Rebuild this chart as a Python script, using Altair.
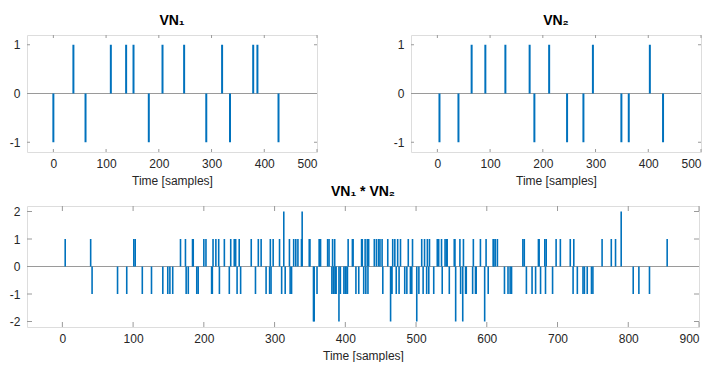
import altair as alt
import pandas as pd

# ---- data (pulse positions and signs of the two sequences) ----
vn1_pos = [0, 38, 61, 109, 138, 152, 181, 207, 248, 290, 320, 335, 379, 387, 427]
vn1_amp = [-1, 1, -1, 1, 1, 1, -1, 1, 1, -1, 1, -1, 1, 1, -1]
vn2_pos = [4, 40, 65, 91, 129, 175, 184, 212, 246, 277, 295, 349, 363, 403, 428]
vn2_amp = [-1, -1, 1, 1, 1, 1, -1, 1, -1, -1, 1, -1, -1, 1, -1]

top_xticks = [0, 100, 200, 300, 400, 500]
top_yticks = [-1, 0, 1]
bot_xticks = [0, 100, 200, 300, 400, 500, 600, 700, 800, 900]
bot_yticks = [-2, -1, 0, 1, 2]

# the bottom panel is the convolution VN1 * VN2 of the two sequences above
conv = {}
for p1, a1 in zip(vn1_pos, vn1_amp):
    for p2, a2 in zip(vn2_pos, vn2_amp):
        conv[p1 + p2] = conv.get(p1 + p2, 0) + a1 * a2
conv_pos = sorted(k for k, v in conv.items() if v != 0)
conv_amp = [conv[k] for k in conv_pos]

BLUE = "#0072BD"
GRAY = "#9a9a9a"
FONT = "Liberation Sans"
TXT = "#262626"


def panel(pos, amp, xdom, ydom, xticks, yticks, w, h, title, ticklen, sw):
    df = pd.DataFrame({"t": pos, "v": amp, "z": [0] * len(pos)})
    xs = alt.Scale(domain=xdom, nice=False, zero=False)
    ys = alt.Scale(domain=ydom, nice=False, zero=False)
    xaxis = alt.Axis(values=xticks, title="Time [samples]", ticks=False, tickSize=0,
                     domain=False, grid=False, labelPadding=6, titlePadding=6,
                     labelFontSize=12, titleFontSize=12, titleFontWeight="normal",
                     labelFont=FONT, titleFont=FONT, labelColor=TXT, titleColor=TXT,
                     labelExpr="datum.value + ''", minExtent=17, maxExtent=17)
    yaxis = alt.Axis(values=yticks, title=None, ticks=False, tickSize=0, domain=False,
                     grid=False, labelPadding=7, labelFontSize=12, labelFont=FONT,
                     labelColor=TXT, labelExpr="datum.value + ''",
                     minExtent=17, maxExtent=17)
    X = lambda f: alt.X(f, scale=xs, axis=xaxis)
    Y = lambda f: alt.Y(f, scale=ys, axis=yaxis)
    stems = alt.Chart(df).mark_rule(color=BLUE, strokeWidth=sw).encode(
        x=X("t:Q"), y=Y("z:Q"), y2="v:Q")
    baseline = alt.Chart(pd.DataFrame({"z": [0]})).mark_rule(
        color=GRAY, strokeWidth=1).encode(y=Y("z:Q"))
    xt = pd.DataFrame({"t": xticks})
    yt = pd.DataFrame({"z": yticks})
    xb = alt.Chart(xt).mark_rule(color=GRAY).encode(
        x=X("t:Q"), y=alt.value(h), y2=alt.value(h - ticklen))
    xtop = alt.Chart(xt).mark_rule(color=GRAY).encode(
        x=X("t:Q"), y=alt.value(0), y2=alt.value(ticklen))
    yl = alt.Chart(yt).mark_rule(color=GRAY).encode(
        y=Y("z:Q"), x=alt.value(0), x2=alt.value(ticklen))
    yr = alt.Chart(yt).mark_rule(color=GRAY).encode(
        y=Y("z:Q"), x=alt.value(w - ticklen), x2=alt.value(w))
    return alt.layer(baseline, stems, xb, xtop, yl, yr).properties(
        width=w, height=h,
        title=alt.TitleParams(title, fontSize=14, fontWeight="bold", font=FONT,
                              color="black", offset=7, anchor="middle"))


p1 = panel(vn1_pos, vn1_amp, [-50, 500], [-1.2, 1.2], top_xticks, top_yticks,
           290, 117, "VN₁", 3, 2)
p2 = panel(vn2_pos, vn2_amp, [-50, 500], [-1.2, 1.2], top_xticks, top_yticks,
           290, 117, "VN₂", 3, 2)
p3 = panel(conv_pos, conv_amp, [-50, 900], [-2.2, 2.2], bot_xticks, bot_yticks,
           672, 121, "VN₁ * VN₂", 5, 1.6)

chart = alt.vconcat(alt.hconcat(p1, p2, spacing=74), p3, spacing=-3).properties(
    padding={"top": 5, "left": 0, "right": 0, "bottom": 0}
).configure_view(stroke=GRAY, strokeWidth=1).configure(background="white")

chart.save("out.html", embed_options={"renderer": "svg", "actions": False})
